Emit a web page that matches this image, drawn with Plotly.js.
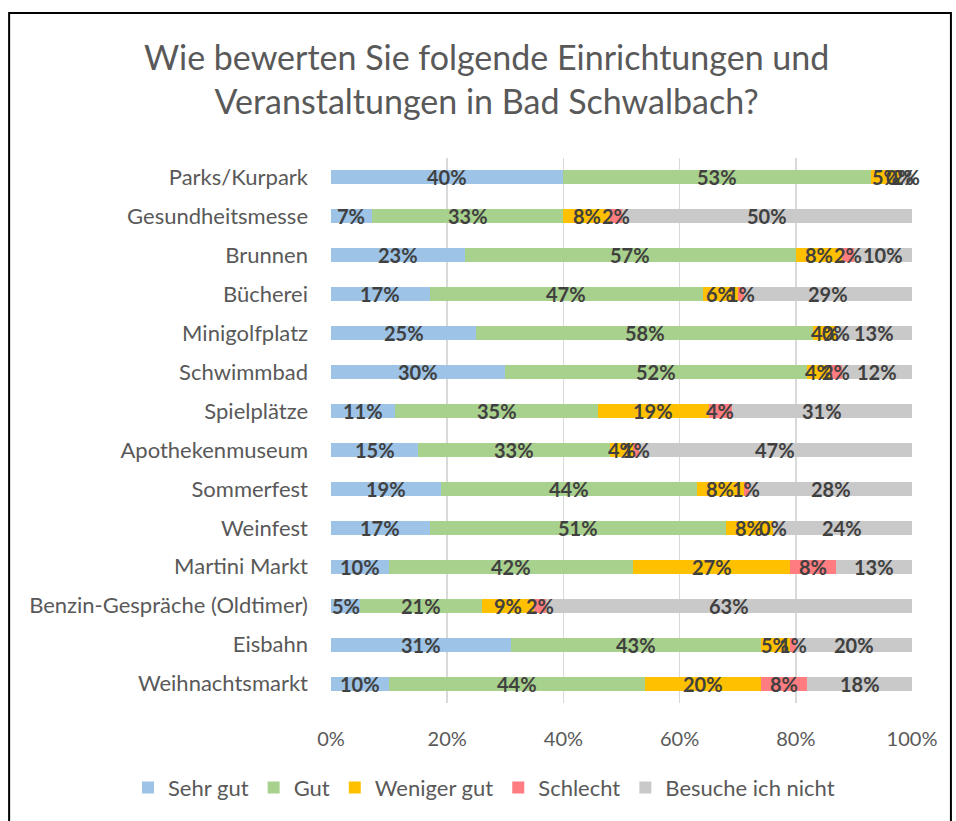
<!DOCTYPE html>
<html><head><meta charset="utf-8">
<script src="https://cdn.plot.ly/plotly-3.0.1.min.js"></script>
<style>html,body{margin:0;padding:0;background:#fff}#chart{width:956px;height:821px}</style>
</head><body><div id="chart"></div>
<script>
const categories = ["Parks/Kurpark","Gesundheitsmesse","Brunnen","Bücherei","Minigolfplatz","Schwimmbad","Spielplätze","Apothekenmuseum","Sommerfest","Weinfest","Martini Markt","Benzin-Gespräche (Oldtimer)","Eisbahn","Weihnachtsmarkt"];
const seriesNames = ["Sehr gut","Gut","Weniger gut","Schlecht","Besuche ich nicht"];
const sehrGut   = [40, 7, 23, 17, 25, 30, 11, 15, 19, 17, 10, 5, 31, 10];
const gut       = [53, 33, 57, 47, 58, 52, 35, 33, 44, 51, 42, 21, 43, 44];
const wenigerGut= [5, 8, 8, 6, 4, 4, 19, 4, 8, 8, 27, 9, 5, 20];
const schlecht  = [0, 2, 2, 1, 0, 2, 4, 1, 1, 0, 8, 2, 1, 8];
const besuche   = [2, 50, 10, 29, 13, 12, 31, 47, 28, 24, 13, 63, 20, 18];
const colors = ["#9DC3E6","#A9D18E","#FFC000","#FF7C80","#C9C9C9"];
const tickVals = [0,20,40,60,80,100];

const FONT = "Lato, 'Open Sans', sans-serif";
const values = [sehrGut, gut, wenigerGut, schlecht, besuche];
const traces = values.map((v, i) => ({
  type: 'bar', orientation: 'h', name: seriesNames[i],
  x: v, y: categories,
  marker: {color: colors[i], line: {width: 0}},
  hoverinfo: 'skip'
}));

// data labels centred on each segment (cumulative midpoints from the data)
const annotations = [];
const cum = categories.map(() => 0);
values.forEach((v) => {
  v.forEach((d, j) => {
    annotations.push({x: cum[j] + d / 2, y: categories[j], xref: 'x', yref: 'y',
      text: d + '%', showarrow: false, xanchor: 'center', yanchor: 'middle',
      font: {family: FONT, size: 20, color: '#404040', weight: 'bold'}});
    cum[j] += d;
  });
});

const layout = {
  width: 956, height: 821,
  margin: {l: 331, r: 44, t: 158, b: 116},
  paper_bgcolor: '#fff', plot_bgcolor: '#fff',
  font: {family: FONT, color: '#595959', size: 20},
  title: {text: 'Wie bewerten Sie folgende Einrichtungen und<br>Veranstaltungen in Bad Schwalbach?',
          font: {family: FONT, size: 34, color: '#595959'},
          x: 0.509, xanchor: 'center', yref: 'container', y: 1 - 70/821, yanchor: 'top'},
  barmode: 'stack', bargap: 0.64,
  xaxis: {range: [0, 100], tickvals: tickVals, ticktext: tickVals.map(t => t + '%'),
          showgrid: true, gridcolor: '#D9D9D9', gridwidth: 1.5, zeroline: false,
          showline: false, ticks: '', ticklabelstandoff: 22,
          tickfont: {family: FONT, size: 20, color: '#595959'}, fixedrange: true},
  yaxis: {autorange: 'reversed', showgrid: false, zeroline: false, showline: false,
          ticks: '', ticklabelstandoff: 22,
          tickfont: {family: FONT, size: 22, color: '#595959'}, fixedrange: true},
  legend: {orientation: 'h', xref: 'paper', yref: 'paper', x: (128 - 331) / 581, xanchor: 'left',
           y: (705 - 790) / 547, yanchor: 'middle', itemwidth: 30, bgcolor: 'rgba(0,0,0,0)',
           font: {family: FONT, size: 22, color: '#595959'}, traceorder: 'normal'},
  annotations: annotations,
  shapes: [{type: 'rect', xref: 'paper', yref: 'paper', x0: -0.554, x1: 1.067, y0: -0.35, y1: 1.266,
            line: {color: '#000', width: 2}, fillcolor: 'rgba(0,0,0,0)', layer: 'above'}],
  showlegend: true
};
Plotly.newPlot('chart', traces, layout, {displayModeBar: false, staticPlot: true});
</script></body></html>
